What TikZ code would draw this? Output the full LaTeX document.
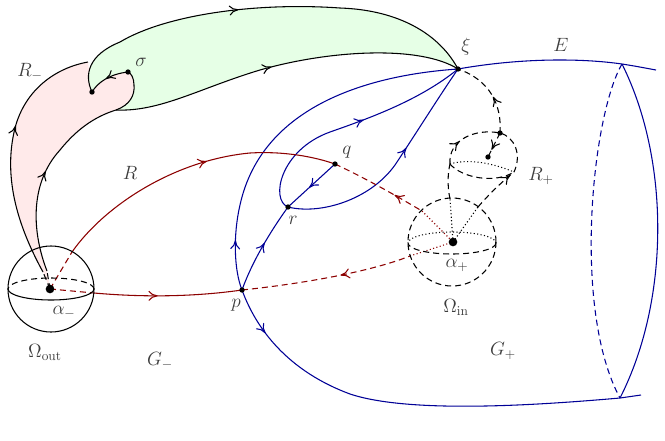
\documentclass[tikz,border=0pt]{standalone}
\usetikzlibrary{arrows.meta,decorations.markings}
\definecolor{navyb}{RGB}{0,0,150}
\definecolor{dred}{RGB}{140,0,0}
\definecolor{pinkf}{RGB}{255,234,234}
\definecolor{greenf}{RGB}{230,255,230}
\definecolor{lab}{RGB}{60,60,60}
\tikzset{
 tipA/.tip={Computer Modern Rightarrow[length=7pt,width=7.5pt]},
 arr/.style={postaction={decorate,decoration={markings,mark=at position #1 with {\arrow{tipA}}}}},
 rarr/.style={postaction={decorate,decoration={markings,mark=at position #1 with {\arrowreversed{tipA}}}}},
 dsh/.style={dash pattern=on 4.5pt off 3pt},
 dtt/.style={dash pattern=on 0.8pt off 1.8pt},
 smalldot/.style={circle,fill=black,inner sep=0pt,minimum size=4pt},
 bigdot/.style={circle,fill=black,inner sep=0pt,minimum size=6.5pt},
 lbl/.style={text=lab,font=\Large},
}
\begin{document}
\begin{tikzpicture}[x=0.75pt,y=-0.75pt,line width=0.8pt]
\useasboundingbox (0,0) rectangle (665,440);
% coordinates
\coordinate (am) at (50,289);
\coordinate (ap) at (453,242);
\coordinate (xi) at (458,69);
\coordinate (sg) at (128,72);
\coordinate (D) at (92,92);
\coordinate (J) at (116,110);
\coordinate (L1) at (88,62);
\coordinate (pm) at (60,150);
\coordinate (p) at (242,290);
\coordinate (q) at (335,164);
\coordinate (r) at (288,207);
\coordinate (T) at (622,64);
\coordinate (B) at (620,398);
\coordinate (Bt) at (641,395);
\coordinate (Et) at (656,70);
\coordinate (P2) at (500,133);
\coordinate (C) at (488,157);
\coordinate (EL) at (450,164);
\coordinate (ER) at (514,172);
\coordinate (c1) at (72,252);
\coordinate (c3) at (94,293);
\coordinate (s1) at (422,211);
\coordinate (s2) at (410,256);
\coordinate (u1) at (450,199);
\coordinate (u2) at (478,207);
\coordinate (pl) at (43,272);
\coordinate (pr) at (47,271);
\coordinate (bq) at (240,205);
\coordinate (oc) at (51,289);
\coordinate (ic) at (452,242);
% fills
\fill[pinkf] (am) -- (pl) .. controls (20,230) and (2,180) .. (15,128) .. controls (25,90) and (55,68) .. (L1) -- (D) .. controls (98,82) and (110,74) .. (sg) .. controls (131,73) and (134,78) .. (134,85) .. controls (135,95) and (130,105) .. (J) .. controls (100,115) and (80,125) .. (pm) .. controls (28,185) and (33,235) .. (pr) -- cycle;
\fill[greenf] (D) .. controls (84,75) and (88,55) .. (120,42) .. controls (165,15) and (255,2) .. (340,8) .. controls (400,10) and (440,35) .. (xi) .. controls (420,45) and (330,50) .. (260,70) .. controls (200,88) and (160,112) .. (J) .. controls (130,105) and (135,95) .. (134,85) .. controls (134,78) and (131,73) .. (sg) .. controls (110,74) and (98,82) .. (D) -- cycle;
% outlines of R-
\draw[dsh] (am) -- (pl);
\draw[arr=0.6] (pl) .. controls (20,230) and (2,180) .. (15,128) .. controls (25,90) and (55,68) .. (L1);
\draw[dsh] (am) -- (pr);
\draw[arr=0.8] (pr) .. controls (33,235) and (28,185) .. (pm);
\draw (pm) .. controls (80,125) and (100,115) .. (J) .. controls (130,105) and (135,95) .. (134,85) .. controls (134,78) and (131,73) .. (sg);
\draw[arr=0.55] (sg) .. controls (110,74) and (98,82) .. (D);
\draw[arr=0.44] (D) .. controls (84,75) and (88,55) .. (120,42) .. controls (165,15) and (255,2) .. (340,8) .. controls (400,10) and (440,35) .. (xi);
\draw[arr=0.46] (J) .. controls (160,112) and (200,88) .. (260,70) .. controls (330,50) and (420,45) .. (xi);
% blue curves
\draw[navyb,arr=0.14] (p) .. controls (234,270) and (233,235) .. (bq) .. controls (262,105) and (370,75) .. (xi);
\draw[navyb,arr=0.11] (p) .. controls (253,320) and (280,368) .. (350,394) .. controls (410,414) and (540,405) .. (B) -- (Bt);
\draw[navyb] (xi) .. controls (520,58) and (580,58) .. (T) .. controls (635,66) and (645,68) .. (Et);
\draw[navyb] (T) .. controls (670,160) and (670,300) .. (B);
\draw[navyb,dsh] (T) .. controls (592,115) and (572,310) .. (B);
\draw[navyb,arr=0.56] (r) .. controls (270,200) and (280,150) .. (330,132) .. controls (370,118) and (420,100) .. (xi);
\draw[navyb,arr=0.6] (r) .. controls (320,215) and (370,200) .. (395,165) .. controls (415,135) and (440,95) .. (xi);
\draw[navyb,arr=0.55] (p) .. controls (252,262) and (270,232) .. (r);
\draw[navyb,arr=0.55] (q) -- (r);
% red curves
\draw[dred,dsh] (am) -- (c1);
\draw[dred,arr=0.56] (c1) .. controls (105,205) and (175,160) .. (250,153) .. controls (285,151) and (315,157) .. (q);
\draw[dred,dsh,rarr=0.68] (q) .. controls (365,178) and (395,195) .. (s1);
\draw[dred,dtt] (s1) -- (ap);
\draw[dred,dsh] (am) -- (c3);
\draw[dred,arr=0.43] (c3) .. controls (150,298) and (200,296) .. (p);
\draw[dred,dsh,rarr=0.58] (p) .. controls (300,284) and (370,272) .. (s2);
\draw[dred,dtt] (s2) -- (ap);
% spheres
\draw (oc) circle[radius=43];
\draw (94,289) arc[start angle=0,end angle=180,x radius=43,y radius=11];
\draw[dsh] (94,289) arc[start angle=0,end angle=-180,x radius=43,y radius=11];
\draw[dsh] (ic) circle[radius=44];
\draw[dsh] (496,243) arc[start angle=0,end angle=180,x radius=44,y radius=11];
\draw[dtt] (496,243) arc[start angle=0,end angle=-180,x radius=44,y radius=11];
% R+
\draw[dsh,arr=0.45] (P2) .. controls (502,105) and (490,80) .. (xi);
\draw[dsh,arr=0.7] (P2) -- (C);
\draw[dsh,arr=0.22] (EL) .. controls (448,140) and (475,128) .. (P2) .. controls (515,137) and (522,155) .. (ER);
\draw[dtt] (EL) .. controls (470,158) and (495,164) .. (ER);
\draw[dsh] (EL) .. controls (462,178) and (495,184) .. (ER);
\draw[dtt] (ap) -- (u1);
\draw[dtt] (ap) -- (u2);
\draw[dsh] (u1) .. controls (447,185) and (448,172) .. (EL);
\draw[dsh,arr=0.9] (u2) .. controls (490,193) and (502,182) .. (ER);
% dots
\node[bigdot] (amd) at (am) {};
\node[bigdot] (apd) at (ap) {};
\node[smalldot] (xid) at (xi) {};
\node[smalldot] (sgd) at (sg) {};
\node[smalldot] (Dd) at (D) {};
\node[smalldot] (pd) at (p) {};
\node[smalldot] (qd) at (q) {};
\node[smalldot] (rd) at (r) {};
\node[smalldot] (P2d) at (P2) {};
\node[smalldot] (Cd) at (C) {};
% labels
\node[lbl] (lRm) at (30,72) {$R_-$};
\node[lbl] (lsg) at (141,62) {$\sigma$};
\node[lbl] (lxi) at (466,47) {$\xi$};
\node[lbl] (lE) at (561,45) {$E$};
\node[lbl] (lR) at (130,173) {$R$};
\node[lbl] (lq) at (347,152) {$q$};
\node[lbl] (lr) at (293,220) {$r$};
\node[lbl] (lRp) at (541,176) {$R_+$};
\node[lbl] (lap) at (457,265) {$\alpha_+$};
\node[lbl] (lam) at (64,312) {$\alpha_-$};
\node[lbl] (lp) at (236,305) {$p$};
\node[lbl] (lOo) at (45,352) {$\Omega_{\mathrm{out}}$};
\node[lbl] (lOi) at (456,307) {$\Omega_{\mathrm{in}}$};
\node[lbl] (lGm) at (160,361) {$G_-$};
\node[lbl] (lGp) at (503,351) {$G_+$};
\end{tikzpicture}
\end{document}
